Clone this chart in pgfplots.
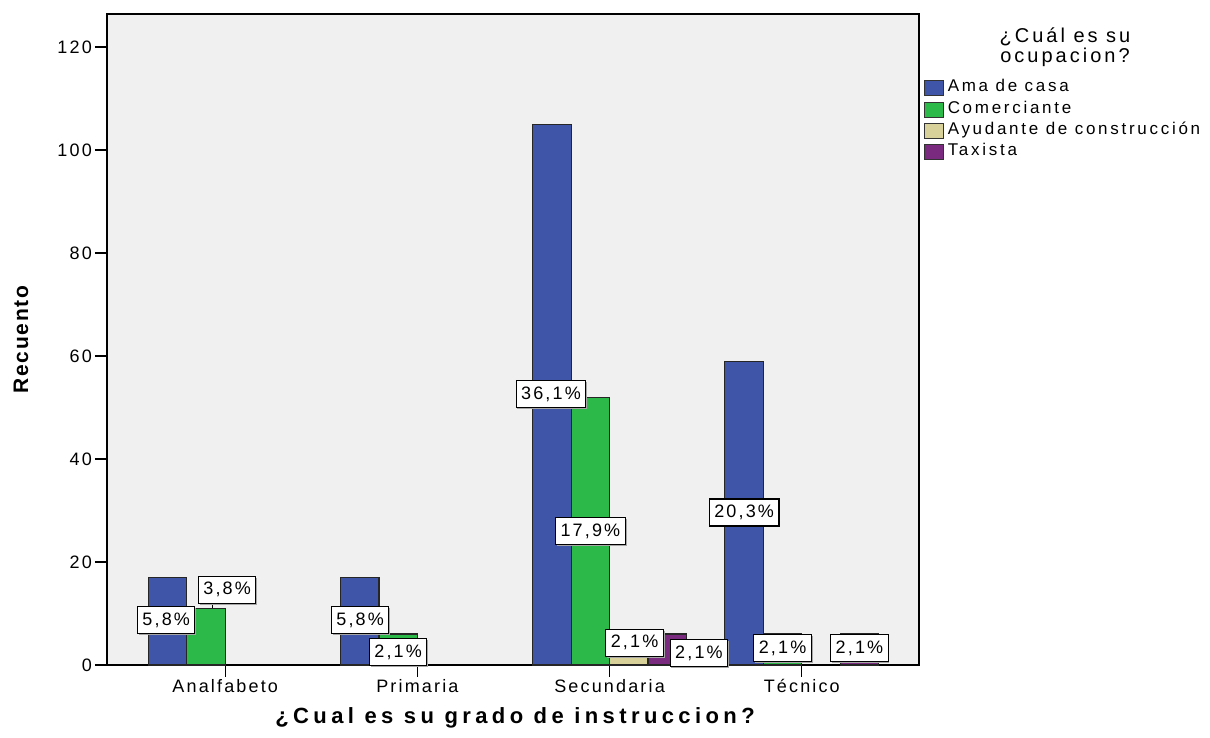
\documentclass[border=0pt]{standalone}
\usepackage{fontspec}
\setmainfont{Liberation Sans}[LetterSpace=12]
\newfontfamily\legfont{Liberation Sans}[LetterSpace=16]
\newfontfamily\titfont{Liberation Sans}[LetterSpace=15]
\newfontfamily\labfont{Liberation Sans}[LetterSpace=8]
\newfontfamily\xlabfont{Liberation Sans}[LetterSpace=20]
\usepackage{pgfplots}
\pgfplotsset{compat=1.18}
\usetikzlibrary{shadows}
\definecolor{cAma}{HTML}{3F55A8}
\definecolor{cCom}{HTML}{2DB84A}
\definecolor{cAyu}{HTML}{D8D29A}
\definecolor{cTax}{HTML}{7B2B7F}
\definecolor{bgc}{HTML}{F0F0F0}
\tikzset{lbl/.style={fill=white, draw=black, line width=1.1pt, inner xsep=5pt, inner ysep=0pt,
  minimum height=27pt, font=\fontsize{18}{20}\selectfont,
  drop shadow={shadow xshift=1.3pt, shadow yshift=-1.3pt, fill=gray!70, opacity=1}}}
\begin{document}
\begin{tikzpicture}
\useasboundingbox (0,0) rectangle (1210pt,738pt);
\begin{axis}[
  at={(107pt,73pt)}, anchor=south west,
  scale only axis, width=812pt, height=651pt,
  xmin=-0.615, xmax=3.61, ymin=0, ymax=126.4,
  ybar, bar width=0.2,
  axis background/.style={fill=bgc},
  xtick={0,1,2,3}, xticklabels={Analfabeto,Primaria,Secundaria,Técnico},
  ytick={0,20,40,60,80,100,120},
  tick pos=left, tick align=outside,
  major tick length=12pt,
  tick style={black, line width=1.1pt},
  axis line style={black, line width=1.1pt},
  /pgf/number format/assume math mode=true,
  ticklabel style={font=\fontsize{18}{20}\selectfont},
  xticklabel style={inner ysep=2pt},
  yticklabel style={inner xsep=3pt},
  ylabel={\labfont\bfseries Recuento},
  ylabel style={at={(axis description cs:-0.106,0.5)}, anchor=center, font=\fontsize{21}{23}\selectfont},
  xlabel={\xlabfont\bfseries ¿Cual es su grado de instruccion?},
  xlabel style={at={(axis description cs:0.5025,-0.081)}, anchor=center, font=\fontsize{22}{24}\selectfont},
  legend image code/.code={\draw[#1, line width=1.1pt, draw=black!80] (0pt,-7.5pt) rectangle (19pt,7.5pt);},
  legend style={at={(rel axis cs:1.0055,0.8985)}, anchor=north west, draw=none, fill=none,
    inner sep=0pt, row sep=5.2pt, font=\fontsize{17}{19}\selectfont\legfont,
    nodes={text height=11pt, text depth=4pt, inner ysep=0pt, inner xsep=4pt},
    column sep=0pt},
  legend cell align=left,
  clip=false,
]
\addplot[fill=cAma, draw=black!85, line width=1.2pt, bar shift=-0.3] coordinates {(0,17) (1,17) (2,105) (3,59)};
\addplot[fill=cCom, draw=black!85, line width=1.2pt, bar shift=-0.1] coordinates {(0,11) (1,6) (2,52) (3,6)};
\addplot[fill=cAyu, draw=black!85, line width=1.2pt, bar shift=0.1] coordinates {(2,6)};
\addplot[fill=cTax, draw=black!85, line width=1.2pt, bar shift=0.3] coordinates {(2,6) (3,6)};
\legend{Ama de casa,Comerciante,Ayudante de construcción,Taxista}
\draw[black, line width=1.1pt] (axis cs:-0.068,11) -- (axis cs:-0.068,13);
\node[lbl] at (axis cs:-0.307,8.7) {5,8\%};
\node[lbl] at (axis cs:0.01,14.6) {3,8\%};
\node[lbl] at (axis cs:0.702,8.7) {5,8\%};
\node[lbl] at (axis cs:0.90,2.5) {2,1\%};
\node[lbl] at (axis cs:1.695,52.6) {36,1\%};
\node[lbl] at (axis cs:1.90,26.0) {17,9\%};
\node[lbl] at (axis cs:2.13,4.3) {2,1\%};
\node[lbl] at (axis cs:2.465,2.3) {2,1\%};
\node[lbl] at (axis cs:2.70,29.6) {20,3\%};
\node[lbl] at (axis cs:2.90,3.3) {2,1\%};
\node[lbl] at (axis cs:3.30,3.3) {2,1\%};
\end{axis}
\node[align=center, font=\fontsize{20}{19.5}\selectfont\titfont, inner sep=0pt] at (1065pt,691pt) {¿Cuál es su\\ocupacion?};
\end{tikzpicture}
\end{document}
